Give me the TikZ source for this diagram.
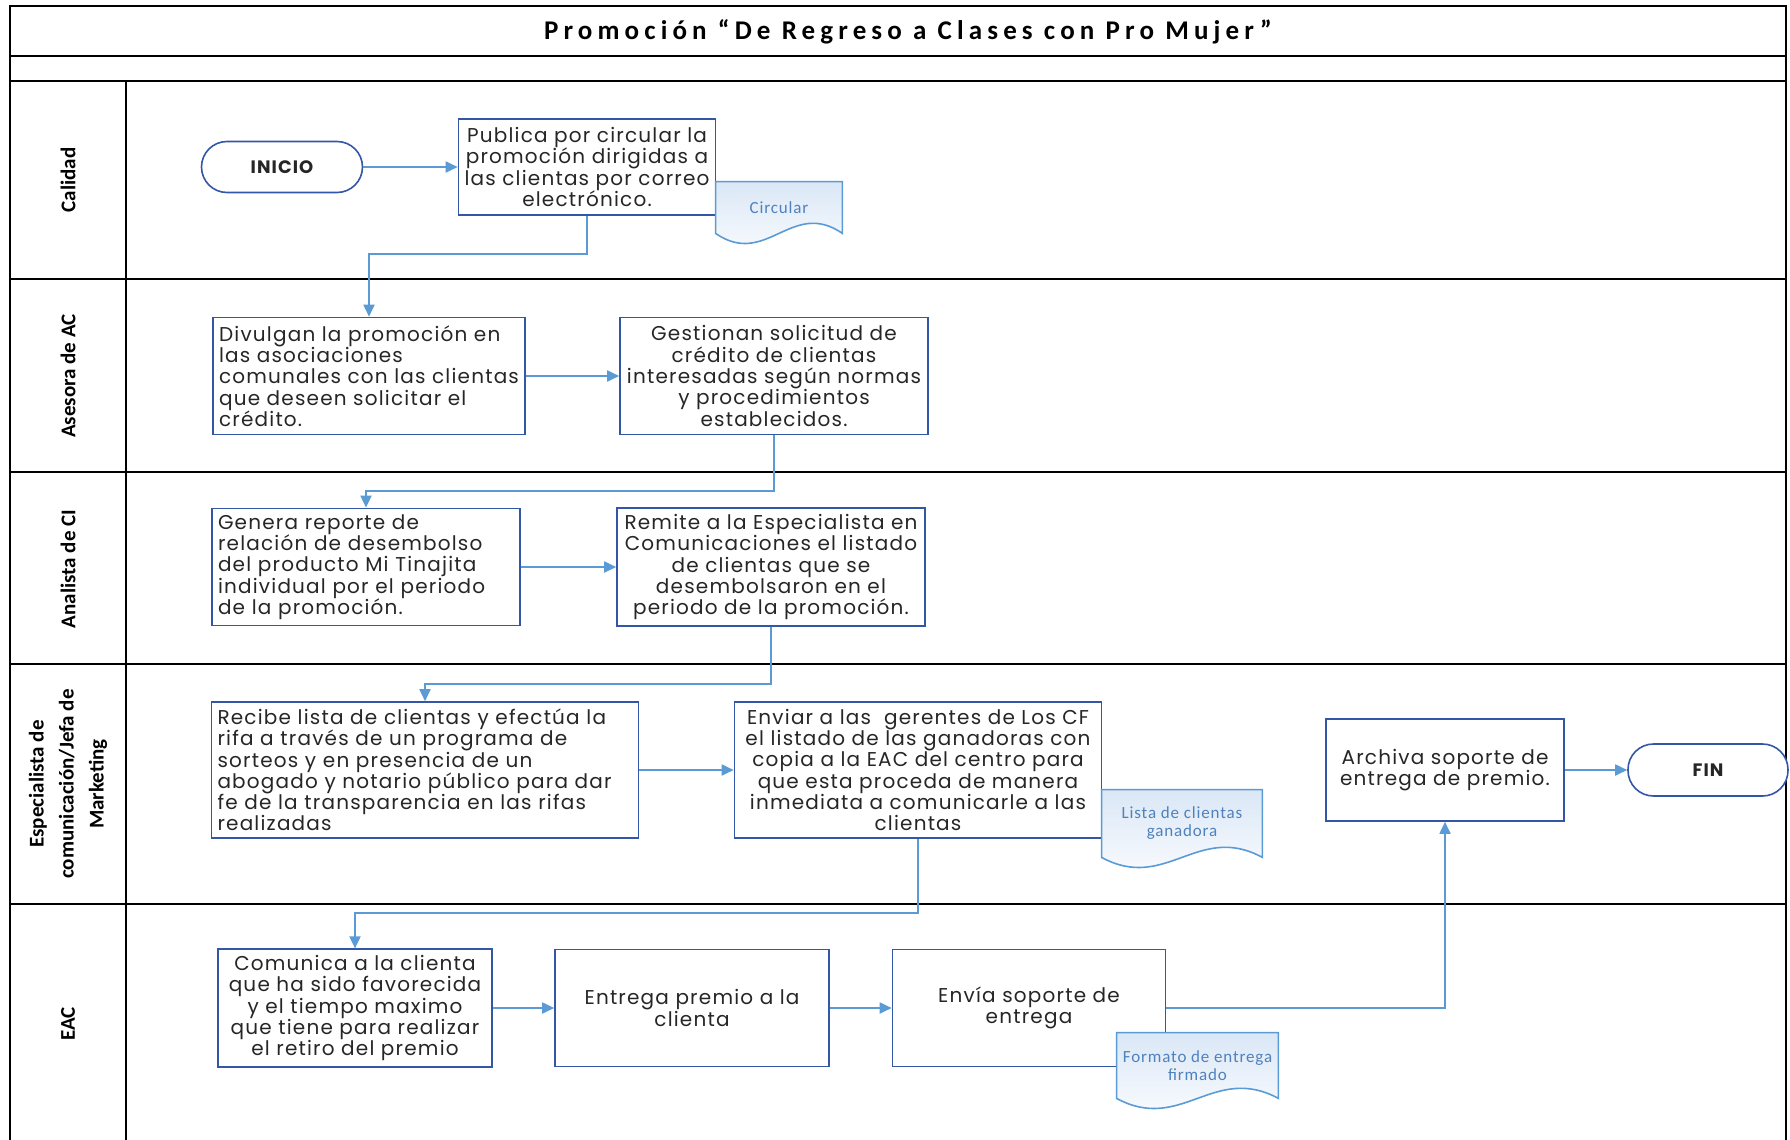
\documentclass[tikz,border=0pt]{standalone}
\usepackage{fontspec}
\usepackage{tikz}
\usetikzlibrary{arrows.meta,calc}
\newfontfamily\calibri{Carlito}
\newfontfamily\doccalibri[LetterSpace=5]{Carlito}
\newfontfamily\titlefont[LetterSpace=19]{Carlito}
\newfontfamily\gothic[LetterSpace=6]{Poppins}
\definecolor{boxblue}{RGB}{52,86,166}
\definecolor{linkblue}{RGB}{91,155,213}
\definecolor{docblue}{RGB}{79,129,189}
\definecolor{docfill}{RGB}{218,231,246}
\definecolor{boxtext}{RGB}{38,38,38}
% document shape with a wavy bottom, drawn over the node's frame
\newcommand{\docshape}[2]{%
  \draw[draw=linkblue, line width=0.8pt, top color=docfill, bottom color=white]
    (#1.north west) -- (#1.south west)
    .. controls ($(#1.south west)!0.4!(#1.south east)+(0,35)$) and ($(#1.south west)!0.6!(#1.south east)+(0,-35)$) .. (#1.south east)
    -- (#1.north east) -- cycle;
  \node[doctext] (#1-text) at (#1) {#2};}

\begin{document}
\begin{tikzpicture}[x=0.5pt,y=-0.5pt,
  laneline/.style={draw=black, line width=1pt},
  lane/.style={rotate=90, align=center, font=\calibri\bfseries\fontsize{10.5}{15}\selectfont},
  box/.style={draw=boxblue, line width=0.8pt, fill=white, text=boxtext, align=center, inner sep=3pt,
    font=\gothic\fontsize{10}{10.65}\selectfont},
  term/.style={box, rounded corners=12.75pt, minimum width=80.5pt, minimum height=25.5pt,
    font=\gothic\bfseries\fontsize{9}{10}\selectfont},
  docbox/.style={inner sep=0pt},
  doctext/.style={align=center, text=docblue, font=\doccalibri\fontsize{8.5}{9}\selectfont},
  link/.style={draw=linkblue, line width=0.9pt, -{Triangle[length=6pt,width=5.5pt]}}]
\useasboundingbox (0,0) rectangle (1790,1140);

% frame and lanes
\draw[laneline] (10,1140) -- (10,6) -- (1786,6) -- (1786,1140);
\foreach \y in {56,81,279,472,664,904}
  \draw[laneline] (10,\y) -- (1786,\y);
\draw[laneline] (126,81) -- (126,1140);
\node[font=\titlefont\bfseries\fontsize{13.5}{16}\selectfont] (title) at (908,32)
  {Promoción “De Regreso a Clases con Pro Mujer”};

\node[lane] (l-cal) at (68,180) {Calidad};
\node[lane] (l-ase) at (68,376) {Asesora de AC};
\node[lane] (l-ana) at (68,569) {Analista de CI};
\node[lane] (l-esp) at (68,784) {Especialista de\\comunicación/Jefa de\\Marketing};
\node[lane] (l-eac) at (68,1024) {EAC};

% Calidad
\node[term] (ini) at (282,167) {INICIO};
\node[box, minimum width=128.5pt, minimum height=48pt] (pub) at (587,167)
  {Publica por circular la\\promoción dirigidas a\\las clientas por correo\\electrónico.};
\node[docbox, minimum width=63pt, minimum height=25.5pt] (circ) at (779,207.5) {};
\docshape{circ}{Circular}

% Asesora de AC
\node[box, align=left, minimum width=154.5pt, minimum height=58.5pt] (div) at (369,376)
  {Divulgan la promoción en\\las asociaciones\\comunales con las clientas\\que deseen solicitar el\\crédito.};
\node[box, minimum width=154pt, minimum height=58.5pt] (ges) at (774,376)
  {Gestionan solicitud de\\crédito de clientas\\interesadas según normas\\y procedimientos\\establecidos.};

% Analista de CI
\node[box, align=left, text width=148pt, minimum height=58.5pt] (gen) at (366,567)
  {Genera reporte de\\relación de desembolso\\del producto Mi Tinajita\\individual por el periodo\\de la promoción.};
\node[box, minimum width=154pt, minimum height=58.5pt] (rem) at (771,567)
  {Remite a la Especialista en\\Comunicaciones el listado\\de clientas que se\\desembolsaron en el\\periodo de la promoción.};

% Especialista / Marketing
\node[box, align=left, text width=207.5pt, minimum height=68pt] (rec) at (425,770)
  {Recibe lista de clientas y efectúa la\\rifa a través de un programa de\\sorteos y en presencia de un\\abogado y notario público para dar\\fe de la transparencia en las rifas\\realizadas};
\node[box, minimum width=183.5pt, minimum height=68pt] (env) at (918,770)
  {Enviar a las\ \ gerentes de Los CF\\el listado de las ganadoras con\\copia a la EAC del centro para\\que esta proceda de manera\\inmediata a comunicarle a las\\clientas};
\node[docbox, minimum width=80pt, minimum height=33.5pt] (lista) at (1182,823.5) {};
\docshape{lista}{Lista de clientas\\ganadora}
\node[box, minimum width=119pt, minimum height=51pt] (arch) at (1445,770)
  {Archiva soporte de\\entrega de premio.};
\node[term, minimum width=80pt, minimum height=26pt] (fin) at (1708,770) {FIN};

% EAC
\node[box, minimum width=137pt, minimum height=58.5pt] (com) at (355,1008)
  {Comunica a la clienta\\que ha sido favorecida\\y el tiempo maximo\\que tiene para realizar\\el retiro del premio};
\node[box, minimum width=137pt, minimum height=58.5pt] (ent) at (692,1008)
  {Entrega premio a la\\clienta};
\node[box, minimum width=136.5pt, minimum height=58.5pt] (envia) at (1029,1008)
  {Envía soporte de\\entrega};
\node[docbox, minimum width=80.5pt, minimum height=32.5pt] (form) at (1197.5,1065.5) {};
\docshape{form}{Formato de entrega\\firmado}

% connectors
\draw[link] (ini) -- (pub);
\draw[link] (pub.south) -- ++(0,38) -| (div.north);
\draw[link] (div) -- (ges);
\draw[link] (ges.south) -- ++(0,56) -| (gen.north);
\draw[link] (gen) -- (rem);
\draw[link] (rem.south) -- ++(0,57) -| (rec.north);
\draw[link] (rec) -- (env);
\draw[link] (env.south) -- ++(0,74) -| (com.north);
\draw[link] (com) -- (ent);
\draw[link] (ent) -- (envia);
\draw[link] (envia.east) -| (arch.south);
\draw[link] (arch) -- (fin);
\end{tikzpicture}
\end{document}
